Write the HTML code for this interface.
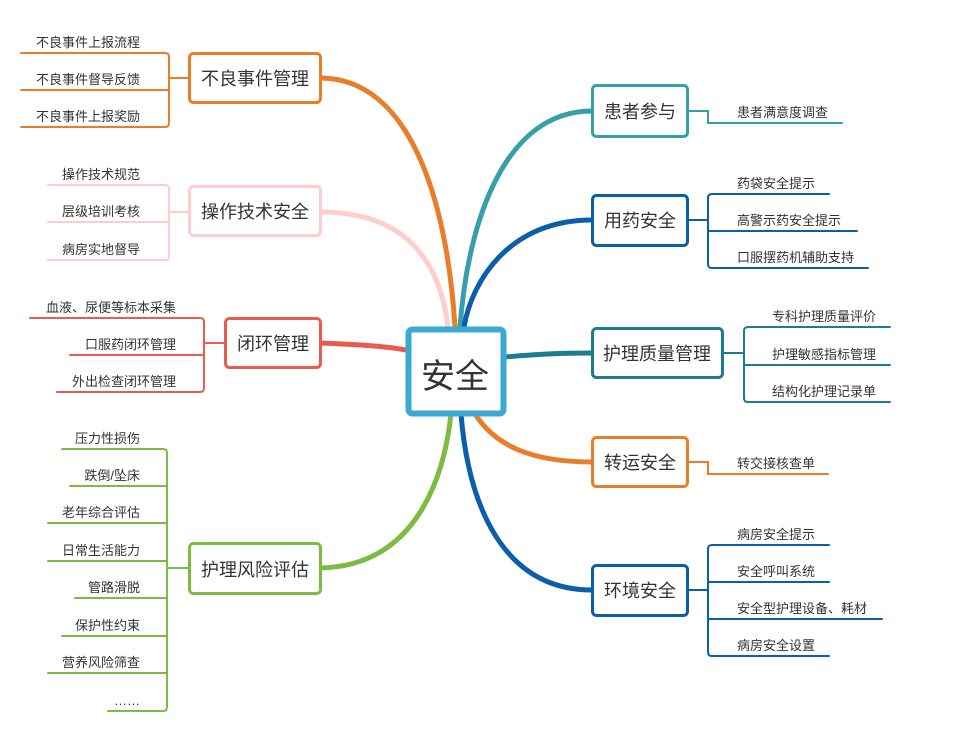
<!DOCTYPE html>
<html><head><meta charset="utf-8"><style>
html,body{margin:0;padding:0;background:#fff;}
svg{display:block;}
text{font-family:"Liberation Sans","Noto Sans CJK SC",sans-serif;fill:#333;}
.s{font-size:13px;}
.n{font-size:18px;}
</style></head><body>
<svg width="962" height="746" viewBox="0 0 962 746" xmlns="http://www.w3.org/2000/svg">
<g fill="none" stroke-linecap="round">
<!-- main curves -->
<path d="M320,78 C410,78 447,200 455,327" stroke="#E87D2A" stroke-width="5"/>
<path d="M320,212 C405,212 440,260 448,327" stroke="#FFCDCC" stroke-width="5"/>
<path d="M320,343 C370,345 390,347 406,350" stroke="#E85C4F" stroke-width="5"/>
<path d="M320,568 C420,566 445,470 451,414" stroke="#7DBB42" stroke-width="5"/>
<path d="M592,111 C505,111 468,220 460,327" stroke="#379FAA" stroke-width="5"/>
<path d="M592,220 C510,220 472,280 464,327" stroke="#0A5EAC" stroke-width="5"/>
<path d="M505,357 C540,354 560,353 592,353" stroke="#1C7D91" stroke-width="5"/>
<path d="M592,462 C530,462 495,445 475,414" stroke="#E87D2A" stroke-width="5"/>
<path d="M592,590 C500,590 468,500 461,414" stroke="#0A5EAC" stroke-width="5"/>

<!-- left brackets -->
<g stroke="#E87D2A" stroke-width="2">
<path d="M21,53 H165 Q169,53 169,57 V123 Q169,127 165,127 H21"/>
<path d="M21,90 H169 M169,78 H189"/>
</g>
<g stroke="#FFCDCC" stroke-width="2">
<path d="M48,185 H165 Q169,185 169,189 V256 Q169,260 165,260 H48"/>
<path d="M48,222 H169 M169,212 H189"/>
</g>
<g stroke="#E85C4F" stroke-width="2">
<path d="M30,318 H200 Q204,318 204,322 V388 Q204,392 200,392 H57"/>
<path d="M70,355 H204 M204,343 H225"/>
</g>
<g stroke="#7DBB42" stroke-width="2">
<path d="M62,449 H163 Q167,449 167,453 V707 Q167,711 163,711 H108"/>
<path d="M70,486 H167 M48,523 H167 M48,561 H167 M75,598 H167 M62,636 H167 M48,673 H167 M167,568 H189"/>
</g>
<!-- right -->
<g stroke="#379FAA" stroke-width="2"><path d="M688,111 H708 V123 H842"/></g>
<g stroke="#0A5EAC" stroke-width="2">
<path d="M829,194 H712 Q708,194 708,198 V264 Q708,268 712,268 H868"/>
<path d="M708,231 H857 M688,220 H708"/>
</g>
<g stroke="#1C7D91" stroke-width="2">
<path d="M890,327 H748 Q744,327 744,331 V398 Q744,402 748,402 H890"/>
<path d="M744,365 H890 M723,353 H744"/>
</g>
<g stroke="#E87D2A" stroke-width="2"><path d="M688,462 H708 V474 H828"/></g>
<g stroke="#0A5EAC" stroke-width="2">
<path d="M829,545 H712 Q708,545 708,549 V652 Q708,656 712,656 H829"/>
<path d="M708,582 H829 M708,619 H882 M688,590 H708"/>
</g>

<!-- boxes -->
<g fill="#fff" stroke-width="3">
<rect x="189.5" y="53.5" width="131" height="49" rx="4" stroke="#E87D2A"/>
<rect x="189.5" y="186.5" width="131" height="49" rx="4" stroke="#FFCDCC"/>
<rect x="225.5" y="318.5" width="95" height="49" rx="4" stroke="#E85C4F"/>
<rect x="189.5" y="543.5" width="131" height="50" rx="4" stroke="#7DBB42"/>
<rect x="592.5" y="85.5" width="95" height="51" rx="4" stroke="#379FAA"/>
<rect x="592.5" y="195.5" width="95" height="50" rx="4" stroke="#0A5EAC"/>
<rect x="592.5" y="328.5" width="130" height="49" rx="4" stroke="#1C7D91"/>
<rect x="592.5" y="437.5" width="95" height="49" rx="4" stroke="#E87D2A"/>
<rect x="592.5" y="565.5" width="95" height="50" rx="4" stroke="#0A5EAC"/>
<rect x="408.5" y="329.5" width="95" height="84" rx="4" stroke="#3BAAD3" stroke-width="6"/>
</g>
</g>

<text x="455" y="388" font-size="34" text-anchor="middle">安全</text>
<g class="n" text-anchor="middle">
<text x="255" y="85">不良事件管理</text>
<text x="255" y="218">操作技术安全</text>
<text x="273" y="350">闭环管理</text>
<text x="255" y="576">护理风险评估</text>
<text x="640" y="118">患者参与</text>
<text x="640" y="227">用药安全</text>
<text x="657" y="360">护理质量管理</text>
<text x="640" y="469">转运安全</text>
<text x="640" y="597">环境安全</text>
</g>
<g class="s" text-anchor="end">
<text x="140" y="47">不良事件上报流程</text>
<text x="140" y="84">不良事件督导反馈</text>
<text x="140" y="121">不良事件上报奖励</text>
<text x="140" y="179">操作技术规范</text>
<text x="140" y="216">层级培训考核</text>
<text x="140" y="254">病房实地督导</text>
<text x="176" y="312">血液、尿便等标本采集</text>
<text x="176" y="349">口服药闭环管理</text>
<text x="176" y="386">外出检查闭环管理</text>
<text x="140" y="443">压力性损伤</text>
<text x="140" y="480">跌倒/坠床</text>
<text x="140" y="517">老年综合评估</text>
<text x="140" y="555">日常生活能力</text>
<text x="140" y="592">管路滑脱</text>
<text x="140" y="630">保护性约束</text>
<text x="140" y="667">营养风险筛查</text>
<text x="140" y="705">……</text>
</g>
<g class="s">
<text x="737" y="117">患者满意度调查</text>
<text x="737" y="188">药袋安全提示</text>
<text x="737" y="225">高警示药安全提示</text>
<text x="737" y="262">口服摆药机辅助支持</text>
<text x="772" y="321">专科护理质量评价</text>
<text x="772" y="359">护理敏感指标管理</text>
<text x="772" y="396">结构化护理记录单</text>
<text x="737" y="468">转交接核查单</text>
<text x="737" y="539">病房安全提示</text>
<text x="737" y="576">安全呼叫系统</text>
<text x="737" y="613">安全型护理设备、耗材</text>
<text x="737" y="650">病房安全设置</text>
</g>
</svg>
</body></html>
